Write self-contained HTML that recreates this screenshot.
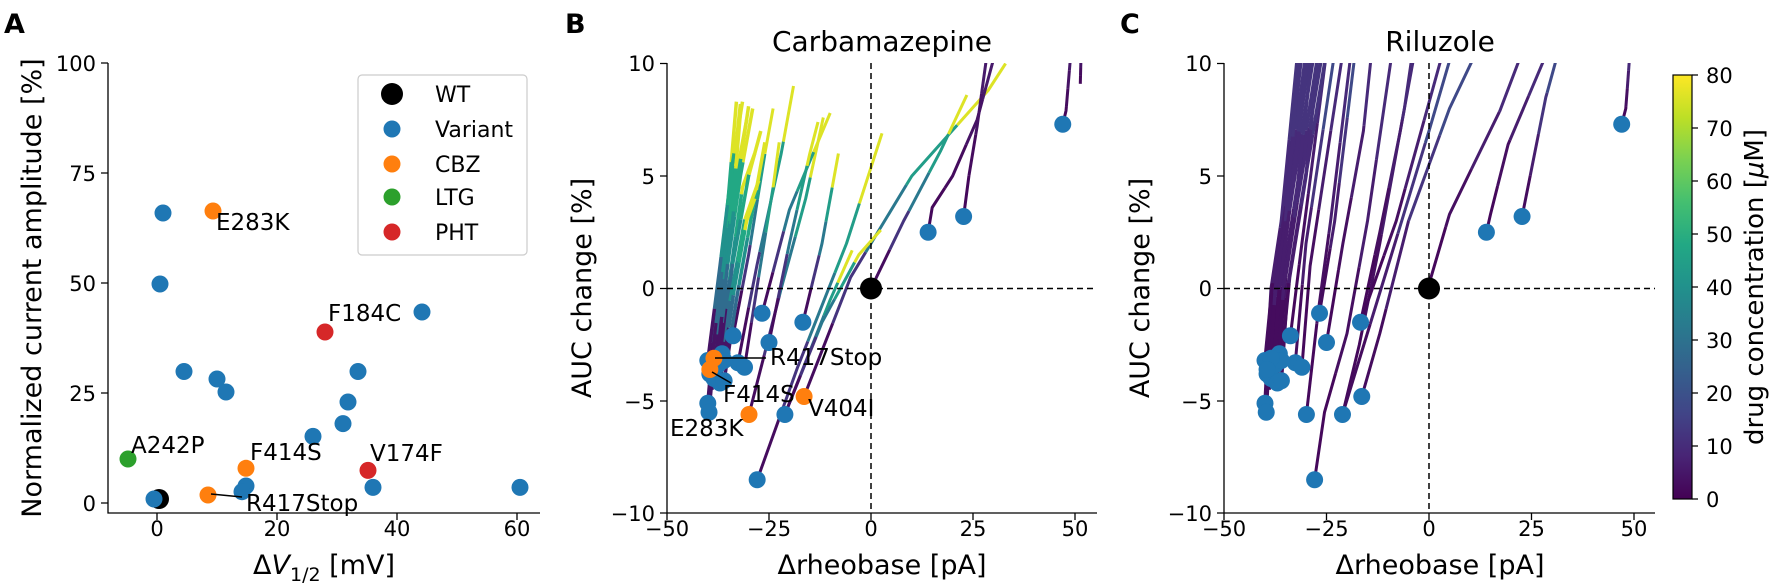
<!DOCTYPE html>
<html><head><meta charset="utf-8"><style>
html,body{margin:0;padding:0;background:#fff;}
svg{display:block;font-family:"DejaVu Sans","Liberation Sans",sans-serif;}
</style></head><body>
<svg id="s" width="1772" height="586" viewBox="0 0 1772 586" xmlns="http://www.w3.org/2000/svg">
<defs>
<clipPath id="cb"><rect x="667" y="63" width="430" height="450"/></clipPath>
<clipPath id="cc"><rect x="1224" y="63" width="431" height="450"/></clipPath>
<linearGradient id="vg" x1="0" y1="1" x2="0" y2="0">
<stop offset="0" stop-color="#440154"/><stop offset="0.1" stop-color="#482475"/><stop offset="0.2" stop-color="#414487"/><stop offset="0.3" stop-color="#355f8d"/><stop offset="0.4" stop-color="#2a788e"/><stop offset="0.5" stop-color="#21918c"/><stop offset="0.6" stop-color="#22a884"/><stop offset="0.7" stop-color="#44bf70"/><stop offset="0.8" stop-color="#7ad151"/><stop offset="0.9" stop-color="#bddf26"/><stop offset="1" stop-color="#fde725"/>
</linearGradient>
</defs>
<g id="g"></g>
<text x="4" y="33" font-size="27" font-weight="bold">A</text>
<text x="565" y="33" font-size="27" font-weight="bold">B</text>
<text x="1120" y="33" font-size="27" font-weight="bold">C</text>
<g stroke="#000" stroke-width="1.3" fill="none">
<path d="M108,63 V513 H540"/>
<path d="M108,503 h-7 M108,393 h-7 M108,283 h-7 M108,173 h-7 M108,63 h-7"/>
<path d="M157,513 v7 M277,513 v7 M397,513 v7 M517,513 v7"/>
</g>
<g font-size="21" text-anchor="end">
<text x="96" y="511">0</text><text x="96" y="401">25</text><text x="96" y="291">50</text><text x="96" y="181">75</text><text x="96" y="71">100</text>
</g>
<g font-size="21" text-anchor="middle">
<text x="157" y="536">0</text><text x="277" y="536">20</text><text x="397" y="536">40</text><text x="517" y="536">60</text>
</g>
<g font-size="27" text-anchor="middle">
<text x="324" y="574">Δ<tspan font-style="italic">V</tspan><tspan font-size="19" dy="7">1/2</tspan><tspan dy="-7"> [mV]</tspan></text>
<text transform="translate(41,288) rotate(-90)">Normalized current amplitude [%]</text>
</g>
<rect x="358" y="75" width="169" height="180" rx="4" fill="#fff" stroke="#ccc" stroke-width="1.2"/>
<circle cx="392" cy="94" r="11" fill="#000"/>
<circle cx="392" cy="129" r="8.5" fill="#1f77b4"/>
<circle cx="392" cy="164" r="8.5" fill="#ff7f0e"/>
<circle cx="392" cy="197" r="8.5" fill="#2ca02c"/>
<circle cx="392" cy="232" r="8.5" fill="#d62728"/>
<g font-size="22"><text x="435" y="102">WT</text><text x="435" y="137">Variant</text><text x="435" y="172">CBZ</text><text x="435" y="205">LTG</text><text x="435" y="240">PHT</text></g>
<g stroke="#000" stroke-width="1.3" fill="none">
<path d="M667,63 V513 H1097"/>
<path d="M667,513 h-7 M667,401 h-7 M667,288.5 h-7 M667,176 h-7 M667,63.5 h-7"/>
<path d="M667,513 v7 M769,513 v7 M871,513 v7 M973,513 v7 M1075,513 v7"/>
<path d="M1224,63 V513 H1655"/>
<path d="M1224,513 h-7 M1224,401 h-7 M1224,288.5 h-7 M1224,176 h-7 M1224,63.5 h-7"/>
<path d="M1224,513 v7 M1326.5,513 v7 M1429,513 v7 M1531.5,513 v7 M1634,513 v7"/>
</g>
<g stroke="#000" stroke-width="1.5" stroke-dasharray="6,4" fill="none">
<path d="M871,63 V513 M667,288.5 H1097"/>
<path d="M1429,63 V513 M1224,288.5 H1655"/>
</g>
<g font-size="21" text-anchor="end">
<text x="655" y="71">10</text><text x="655" y="184">5</text><text x="655" y="296">0</text><text x="655" y="409">−5</text><text x="655" y="521">−10</text>
<text x="1212" y="71">10</text><text x="1212" y="184">5</text><text x="1212" y="296">0</text><text x="1212" y="409">−5</text><text x="1212" y="521">−10</text>
</g>
<g font-size="21" text-anchor="middle">
<text x="667" y="536">−50</text><text x="769" y="536">−25</text><text x="871" y="536">0</text><text x="973" y="536">25</text><text x="1075" y="536">50</text>
<text x="1224" y="536">−50</text><text x="1326.5" y="536">−25</text><text x="1429" y="536">0</text><text x="1531.5" y="536">25</text><text x="1634" y="536">50</text>
</g>
<g font-size="27" text-anchor="middle">
<text x="882" y="574">Δrheobase [pA]</text><text x="1440" y="574">Δrheobase [pA]</text>
<text transform="translate(591,288) rotate(-90)">AUC change [%]</text>
<text transform="translate(1149,288) rotate(-90)">AUC change [%]</text>
<text x="882" y="51" font-size="28">Carbamazepine</text>
<text x="1440" y="51" font-size="28">Riluzole</text>
</g>
<rect x="1673" y="75" width="19" height="424" fill="url(#vg)" stroke="#000" stroke-width="1.2"/>
<g stroke="#000" stroke-width="1.2">
<path d="M1692,499 h6 M1692,446 h6 M1692,393 h6 M1692,340 h6 M1692,287 h6 M1692,234 h6 M1692,181 h6 M1692,128 h6 M1692,75 h6"/>
</g>
<g font-size="21">
<text x="1706" y="507">0</text><text x="1706" y="454">10</text><text x="1706" y="401">20</text><text x="1706" y="348">30</text><text x="1706" y="295">40</text><text x="1706" y="242">50</text><text x="1706" y="189">60</text><text x="1706" y="136">70</text><text x="1706" y="83">80</text>
</g>
<text transform="translate(1763,287) rotate(-90)" text-anchor="middle" font-size="26">drug concentration [<tspan font-style="italic">μ</tspan>M]</text>
<g id="top"></g>
</svg>
<script>
var NS="http://www.w3.org/2000/svg";
var G=document.getElementById('g'), T=document.getElementById('top');
function el(p,n,a){var e=document.createElementNS(NS,n);for(var k in a)e.setAttribute(k,a[k]);p.appendChild(e);return e;}
var V=[[68,1,84],[72,36,117],[65,68,135],[53,95,141],[42,120,142],[33,145,140],[34,168,132],[68,191,112],[122,209,81],[189,223,38],[253,231,37]];
function vir(t){t=Math.max(0,Math.min(1,t));var f=t*10,i=Math.min(9,Math.floor(f)),r=f-i,a=V[i],b=V[i+1];return 'rgb('+[0,1,2].map(function(k){return Math.round(a[k]+(b[k]-a[k])*r)}).join(',')+')';}
var BX=function(x){return 871+4.08*x}, CX=function(x){return 1429+4.1*x}, Y=function(y){return 288.5-22.5*y};
function interp(P,cum,d){for(var i=1;i<P.length;i++){if(cum[i]>=d){var r=(d-cum[i-1])/(cum[i]-cum[i-1]||1);return [P[i-1][0]+(P[i][0]-P[i-1][0])*r,P[i-1][1]+(P[i][1]-P[i-1][1])*r];}}return P[P.length-1];}
function drawLine(par,pts,X,ts,w){
  var P=pts.map(function(p){return [X(p[0]),Y(p[1])]});
  var cum=[0];for(var i=1;i<P.length;i++)cum.push(cum[i-1]+Math.hypot(P[i][0]-P[i-1][0],P[i][1]-P[i-1][1]));
  var L=cum[cum.length-1],n=ts.length;
  for(var k=0;k<n;k++){
    var d0=L*k/n,d1=L*(k+1)/n,seg=[interp(P,cum,d0)];
    for(var i=0;i<P.length;i++)if(cum[i]>d0&&cum[i]<d1)seg.push(P[i]);
    seg.push(interp(P,cum,d1));
    el(par,'polyline',{points:seg.map(function(p){return p[0].toFixed(1)+','+p[1].toFixed(1)}).join(' '),fill:'none',stroke:vir(ts[k]),'stroke-width':w||3,'stroke-linejoin':'round'});
  }
}
var gB=el(G,'g',{'clip-path':'url(#cb)'}), gC=el(G,'g',{'clip-path':'url(#cc)'});
var TB=[0.03,0.15,0.4,0.55,0.95];
var BL=[
[[-27.9,-8.5],[-18,-3.5],[-6,2],[2.7,6.9]],
[[-21.1,-5.6],[-10,-0.5],[-4.6,1.7]],
[[-16.4,-4.8],[-5,0.5],[10,5],[28.7,8.8],[33,10]],
[[-29.9,-5.6],[-22,0],[-16,4],[-11.7,7.6]],
[[-16.7,-1.5],[-12,2],[-8,6]],
[[-26.7,-1.1],[-20,3.5],[-10,7.8]],
[[-25,-2.4],[-20,2],[-15,6],[-13,7.4]],
[[-33.8,-2.1],[-30,1.5],[-26,6],[-24,8]],
[[-32.6,-3.3],[-28,1],[-22,6],[-19,9]],
[[-31,-3.5],[-28,0],[-24,4.5],[-22.5,6.5]],
[[-21.1,-5.6],[-12,-1.5],[-3,1.5],[2.4,2.6]],
[[0,0],[8,3],[17,6.1],[23.5,8.6]]
];
BL.forEach(function(l){drawLine(gB,l,BX,TB);});
var CLU=[
[[-40,-5.1],[-38,-1],[-35,4],[-33,8.3]],
[[-39.7,-5.5],[-37.5,-1],[-34.5,4],[-32,8.2]],
[[-40,-3.2],[-37,1],[-34,5.5],[-31.5,8.3]],
[[-39.5,-3.8],[-36.5,0.5],[-33,5],[-30.5,7.5]],
[[-38.5,-4],[-36,0],[-32,5],[-29,8]],
[[-37.5,-3.4],[-35,0],[-31.5,4.5],[-28.5,6]],
[[-36.5,-2.9],[-34,1],[-30,5],[-27,7]],
[[-36,-4.1],[-33,-0.5],[-29,3.5],[-26,6.5]],
[[-37,-4.2],[-34.5,-0.5],[-31,3],[-27.5,4.8]],
[[-36,-3.2],[-33.5,0],[-30.5,3],[-28.5,4]],
[[-39,-4.5],[-36.5,-0.5],[-34,3.5],[-32,7.8]],
[[-38,-3.6],[-35.5,0.5],[-33,4.5],[-30,8.1]]
];
CLU.forEach(function(l){drawLine(gB,l,BX,[0.05,0.35,0.5,0.6,0.95],3.5);});
var TP=[0.02,0.03,0.05,0.07];
[[[14,2.5],[15,3.6],[20,5],[26,7.5],[30.5,10.5]],
 [[22.7,3.2],[24,5],[26,7.2],[28.5,10.5]],
 [[47,7.3],[47.8,7.9],[49,10.5]],
 [[51.3,9.1],[51.5,10.5]]].forEach(function(l){drawLine(gB,l,BX,TP);});
var CL=[
[[-27.9,-8.5],[-25.5,-5.5],[-20,-2],[-15,3],[-9,10.5]],
[[-21.1,-5.6],[-17,-2.5],[-12,2],[-6,8],[-4,10.5]],
[[-16.4,-4.8],[-12,-2],[-5,3],[5,8],[11.5,10.5]],
[[-29.9,-5.6],[-27,-1],[-24,3],[-19,10.5]],
[[-16.7,-1.5],[-12,2.5],[-7,7],[-3.5,10.5]],
[[-26.7,-1.1],[-23,3],[-18,10.5]],
[[-25,-2.4],[-21,2],[-16,7],[-14,10.5]],
[[-33.8,-2.1],[-31,2],[-25,10.5]],
[[-32.6,-3.3],[-30,2],[-23,10.5]],
[[-31,-3.5],[-29,1],[-21,10.5]],
[[0,0],[0.5,0.5],[5,3.3],[17.3,7.9],[22.7,10.5]],
[[-21.1,-5.6],[-10,1],[0,7],[5.6,10.5]],
[[-16.7,-1.5],[-8,3],[3.4,10.5]],
[[14,2.5],[15,3.3],[19.3,6.4],[28.8,10.5]],
[[22.7,3.2],[28.5,8.5],[31.5,10.5]],
[[47,7.3],[48,8],[49,10.5]]
];
CL.forEach(function(l,i){drawLine(gC,l,CX,i%3==2?[0.03,0.08,0.15,0.22]:[0.02,0.04,0.08,0.12]);});
var CC=[
[[-40,-5.1],[-38.5,0],[-36,3],[-32,10.5]],
[[-39.7,-5.5],[-38,0],[-35.5,3],[-31,10.5]],
[[-40,-3.2],[-38,0.5],[-35,3.5],[-30,10.5]],
[[-39.5,-3.8],[-37.5,0],[-34.5,3.5],[-29,10.5]],
[[-38.5,-4],[-37,0],[-34,3.5],[-28,10.5]],
[[-37.5,-3.4],[-36,0],[-33,3.5],[-27,10.5]],
[[-36.5,-2.9],[-35,0.5],[-32,4],[-26,10.5]],
[[-36,-4.1],[-34.5,0],[-31,4],[-25,10.5]],
[[-37,-4.2],[-35.5,0],[-33,3],[-28.5,10.5]],
[[-36,-3.2],[-34,0.5],[-30,5],[-27,10.5]],
[[-39,-4.5],[-37.5,0],[-35,3],[-31.5,10.5]],
[[-38,-3.6],[-36.5,0],[-34,3.5],[-29.5,10.5]]
];
CC.forEach(function(l){drawLine(gC,l,CX,[0.03,0.08,0.12,0.15],3.5);});
function dot(p,x,y,c,r){el(p,'circle',{cx:x,cy:y,r:r||8.5,fill:c});}
var BP=[[-27.9,-8.5],[-21.1,-5.6],[-16.7,-1.5],[-26.7,-1.1],[-25,-2.4],[-33.8,-2.1],[-32.6,-3.3],[-31,-3.5],[-40,-5.1],[-39.7,-5.5],[-40,-3.2],[-39.5,-3.8],[-38.5,-4.0],[-37.5,-3.4],[-36.5,-2.9],[-36,-3.2],[-37,-4.2],[-36,-4.1],[14,2.5],[22.7,3.2],[47,7.3]];
var OR=[[-29.9,-5.6],[-16.4,-4.8],[-38.5,-3.1],[-39.5,-3.6]];
BP.forEach(function(p){dot(T,BX(p[0]),Y(p[1]),'#1f77b4');dot(T,CX(p[0]),Y(p[1]),'#1f77b4');});
OR.forEach(function(p){dot(T,BX(p[0]),Y(p[1]),'#ff7f0e');dot(T,CX(p[0]),Y(p[1]),'#1f77b4');});
dot(T,BX(0),Y(0),'#000',11);dot(T,CX(0),Y(0),'#000',11);
[[163,213],[160,284],[184,371.5],[217,379],[226,392],[358,371.5],[348,402],[343,423.6],[313,436.4],[246,486],[242,491.7],[373,487.4],[422,312],[520,487.4]].forEach(function(p){dot(T,p[0],p[1],'#1f77b4');});
dot(T,159,499,'#000',10);dot(T,154,499,'#1f77b4',8.5);
dot(T,213,211,'#ff7f0e');dot(T,246,468.3,'#ff7f0e');dot(T,208,495,'#ff7f0e');
dot(T,128,459,'#2ca02c');dot(T,325,332,'#d62728');dot(T,368,470.4,'#d62728');
el(T,'path',{d:'M211,494 L242,497 M715,358 L766,358 M712,372 L731,383',stroke:'#000','stroke-width':1.5,fill:'none'});
var tx=[[216,230,'E283K'],[250,460,'F414S'],[246,511,'R417Stop'],[131,453,'A242P'],[328,321,'F184C'],[370,461,'V174F'],
[770,365,'R417Stop'],[723,402,'F414S'],[670,436,'E283K'],[808,416,'V404I']];
tx.forEach(function(t){var e=el(T,'text',{x:t[0],y:t[1],'font-size':23});e.textContent=t[2];});
</script>
</body></html>
